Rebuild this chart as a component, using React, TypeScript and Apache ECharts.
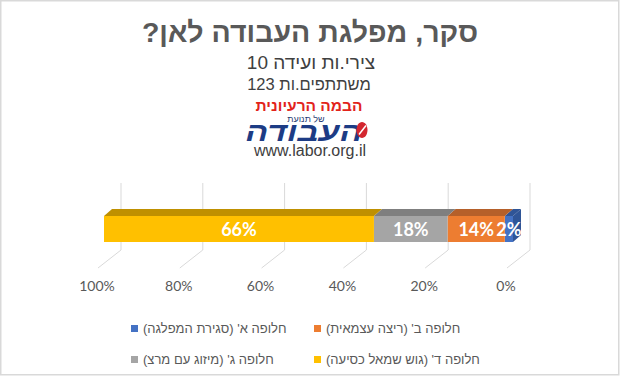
import React, { useEffect, useRef } from 'react';
import * as echarts from 'echarts';

const categories = ['סקר'];
const seriesNames = [
  "חלופה א' (סגירת המפלגה)",
  "חלופה ב' (ריצה עצמאית)",
  "חלופה ג' (מיזוג עם מרצ)",
  "חלופה ד' (גוש שמאל כסיעה)",
];
const seriesValues = [2, 14, 18, 66];
const frontColors = ['#4472C4', '#ED7D31', '#A5A5A5', '#FFC000'];
const topColors = ['#2F5597', '#B5602A', '#7F7F7F', '#BF9000'];
const tickValues = [0, 20, 40, 60, 80, 100];
const titleText = 'סקר, מפלגת העבודה לאן?';
const subtitle1 = 'צירי.ות ועידה 10';
const subtitle2 = 'משתתפים.ות 123';
const logoTop = 'הבמה הרעיונית';
const logoSmall = 'של תנועת';
const logoMain = 'העבודה';
const website = 'www.labor.org.il';

const HEB = '"Liberation Sans", Arial, sans-serif';
const NUM = 'Lato, "Liberation Sans", sans-serif';

export default function App() {
  const ref = useRef<HTMLDivElement>(null);

  useEffect(() => {
    document.body.style.margin = '0';
    if (!ref.current) return;
    const chart = echarts.init(ref.current, undefined, { renderer: 'svg' });

    let cum = 0;
    const segments = seriesValues.map((v, i) => {
      const s = cum;
      cum += v;
      return [s, cum, i, 0];
    });

    const DX = 8;
    const DY = 7;

    const option: any = {
      animation: false,
      backgroundColor: '#ffffff',
      grid: [
        { left: 104, right: 107, top: 216, height: 26 },
        { left: 97, right: 114, top: 270, height: 1 },
      ],
      xAxis: [
        {
          gridIndex: 0, type: 'value', min: 0, max: 100, inverse: true,
          axisLine: { show: false }, axisTick: { show: false },
          axisLabel: { show: false }, splitLine: { show: false },
        },
        {
          gridIndex: 1, type: 'value', min: 0, max: 100, interval: 20, inverse: true,
          axisLine: { show: false }, axisTick: { show: false }, splitLine: { show: false },
          axisLabel: {
            formatter: '{value}%', color: '#595959', fontFamily: NUM, fontSize: 14, margin: 7,
          },
        },
      ],
      yAxis: [
        { gridIndex: 0, type: 'category', data: categories, show: false },
        { gridIndex: 1, type: 'category', data: categories, show: false },
      ],
      legend: [
        {
          data: [seriesNames[0], seriesNames[2]],
          orient: 'vertical', left: 126, top: 317, itemWidth: 7, itemHeight: 7, itemGap: 18,
          icon: 'rect', selectedMode: false,
          textStyle: { color: '#595959', fontSize: 13, fontFamily: HEB },
        },
        {
          data: [seriesNames[1], seriesNames[3]],
          orient: 'vertical', left: 309, top: 317, itemWidth: 7, itemHeight: 7, itemGap: 18,
          icon: 'rect', selectedMode: false,
          textStyle: { color: '#595959', fontSize: 13, fontFamily: HEB },
        },
      ],
      graphic: [
        {
          type: 'rect', silent: true,
          shape: { x: 0.75, y: 0.75, width: 618, height: 374 },
          style: { fill: 'none', stroke: '#D9D9D9', lineWidth: 1.5 },
        },
        {
          type: 'text', x: 310, y: 32,
          style: { text: titleText, textAlign: 'center', textVerticalAlign: 'middle', fill: '#595959', font: `bold 28.5px ${HEB}` },
        },
        {
          type: 'text', x: 311, y: 62,
          style: { text: subtitle1, textAlign: 'center', textVerticalAlign: 'middle', fill: '#404040', font: `19px ${HEB}` },
        },
        {
          type: 'text', x: 309, y: 84,
          style: { text: subtitle2, textAlign: 'center', textVerticalAlign: 'middle', fill: '#404040', font: `16.5px ${HEB}` },
        },
        {
          type: 'text', x: 309, y: 105,
          style: { text: logoTop, textAlign: 'center', textVerticalAlign: 'middle', fill: '#E2231A', font: `bold 15.5px ${HEB}` },
        },
        {
          type: 'text', x: 306, y: 118.5,
          style: { text: logoSmall, textAlign: 'center', textVerticalAlign: 'middle', fill: '#1F3B73', font: `9px ${HEB}` },
        },
        {
          type: 'text', x: 304, y: 131.5, scaleX: 1.25,
          style: { text: logoMain, textAlign: 'center', textVerticalAlign: 'middle', fill: '#1D3C85', font: `italic 900 27px ${HEB}` },
        },
        {
          type: 'ellipse', shape: { cx: 362, cy: 130, rx: 5.5, ry: 8 },
          style: { fill: '#D3262F' },
        },
        {
          type: 'line', shape: { x1: 359, y1: 134.5, x2: 366, y2: 125.5 },
          style: { stroke: '#ffffff', lineWidth: 1.5 },
        },
        {
          type: 'text', x: 310, y: 150,
          style: { text: website, textAlign: 'center', textVerticalAlign: 'middle', fill: '#404040', font: `16px ${HEB}` },
        },
      ],
      series: [
        {
          type: 'custom', name: 'gridlines', xAxisIndex: 0, yAxisIndex: 0, z: 0, silent: true,
          data: tickValues.map((v) => [v, 0]),
          renderItem: (params: any, api: any) => {
            const p = api.coord([api.value(0), 0]);
            const h = api.size([0, 1])[1];
            const top = p[1] - h / 2;
            const bottom = p[1] + h / 2;
            return {
              type: 'polyline',
              shape: { points: [[p[0] + 17, top - 33], [p[0] + 17, bottom + 8], [p[0] - 6, bottom + 26]] },
              style: { stroke: '#D9D9D9', lineWidth: 1, fill: 'none' },
            };
          },
        },
        {
          type: 'custom', name: 'faces', xAxisIndex: 0, yAxisIndex: 0, z: 1, silent: true,
          data: segments,
          renderItem: (params: any, api: any) => {
            const s = api.value(0);
            const e = api.value(1);
            const idx = api.value(2);
            const p0 = api.coord([s, 0]);
            const p1 = api.coord([e, 0]);
            const h = api.size([0, 1])[1];
            const top = p0[1] - h / 2;
            const bottom = p0[1] + h / 2;
            const children: any[] = [
              {
                type: 'polygon',
                shape: { points: [[p1[0], top], [p0[0], top], [p0[0] + DX, top - DY], [p1[0] + DX, top - DY]] },
                style: { fill: topColors[idx] },
              },
            ];
            if (s === 0) {
              children.push({
                type: 'polygon',
                shape: { points: [[p0[0], top], [p0[0] + DX, top - DY], [p0[0] + DX, bottom - DY], [p0[0], bottom]] },
                style: { fill: topColors[idx] },
              });
            }
            return { type: 'group', children };
          },
        },
        ...seriesNames.map((name, i) => ({
          type: 'bar', name, stack: 'total', xAxisIndex: 0, yAxisIndex: 0, z: 2,
          data: [seriesValues[i]], barWidth: '100%',
          itemStyle: { color: frontColors[i] },
          label: {
            show: true, position: 'inside', formatter: '{c}%', color: '#ffffff',
            fontWeight: 'bold', fontFamily: NUM, fontSize: 18,
          },
        })),
      ],
    };

    chart.setOption(option);
    return () => chart.dispose();
  }, []);

  return (
    <>
      <style>{`.chart-root svg text { unicode-bidi: plaintext; }`}</style>
      <div className="chart-root" ref={ref} style={{ width: 620, height: 376 }} />
    </>
  );
}
